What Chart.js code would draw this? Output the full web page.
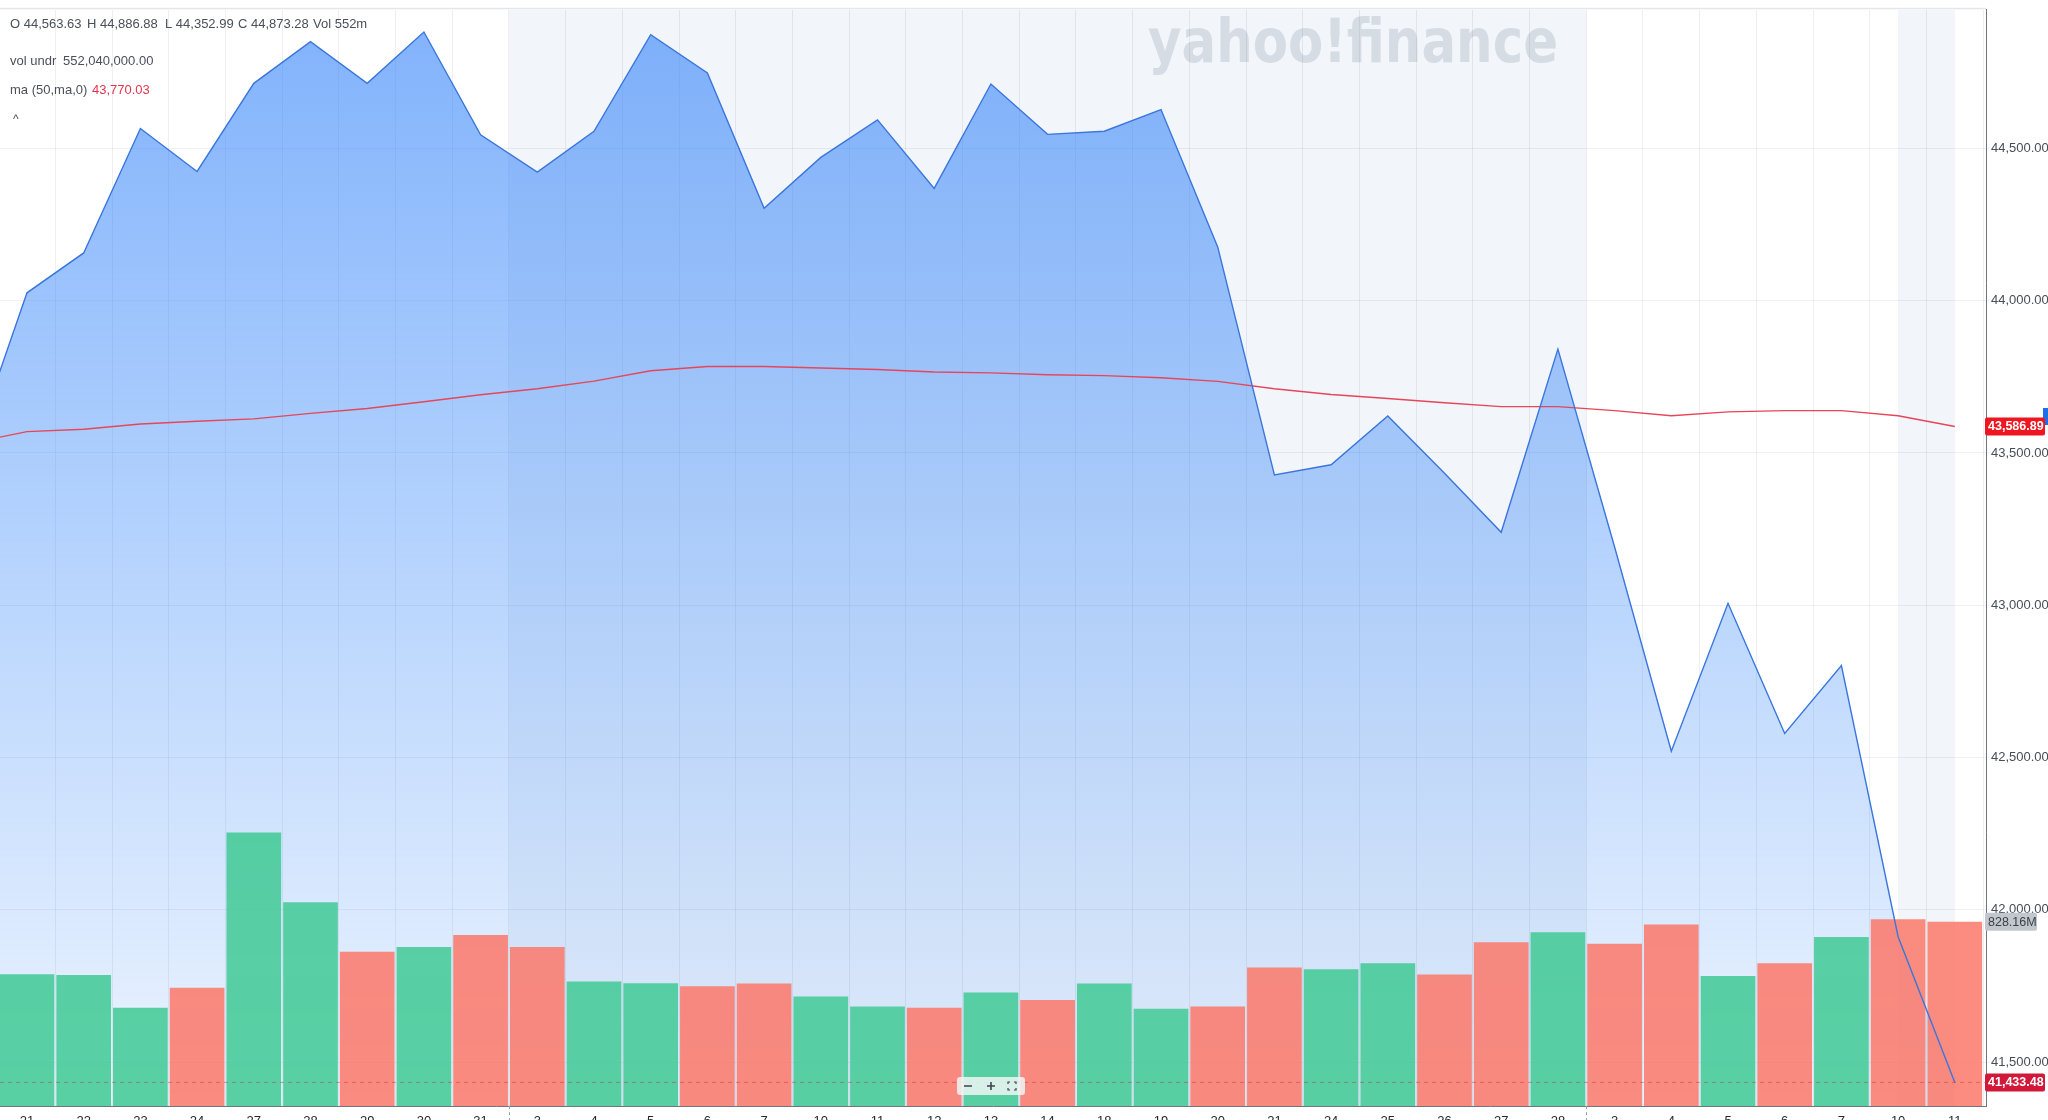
<!DOCTYPE html>
<html>
<head>
<meta charset="utf-8">
<title>DJIA</title>
<script src="https://cdn.jsdelivr.net/npm/chart.js@4.4.1/dist/chart.umd.min.js"></script>
<style>
  html, body { margin: 0; padding: 0; background: #fff; }
  #wrap { position: relative; width: 2048px; height: 1120px; overflow: hidden; }
  #wrap canvas { position: absolute; left: 0; top: 0; }
</style>
</head>
<body>
<div id="wrap"><canvas id="chart" width="2048" height="1140"></canvas></div>
<script>
// Day labels (Jan 21 - Mar 11)
const dateLabels = ['21', '22', '23', '24', '27', '28', '29', '30', '31',
  '3', '4', '5', '6', '7', '10', '11', '12', '13', '14', '18', '19', '20', '21', '24', '25', '26', '27', '28',
  '3', '4', '5', '6', '7', '10', '11'];

// close of the day before the first label (sits just off the left edge)
const prevClose = 43487.83;
const prevMa = 43532;

const closes = [44025.81, 44156.73, 44565.07, 44424.25, 44713.58, 44850.35, 44713.52, 44882.13, 44544.66,
  44421.91, 44556.04, 44873.28, 44747.63, 44303.40, 44470.41, 44593.65, 44368.56, 44711.43, 44546.08,
  44556.34, 44627.59, 44176.65, 43428.02, 43461.21, 43621.16, 43433.12, 43239.50, 43840.91,
  43191.24, 42520.99, 43006.59, 42579.08, 42801.72, 41911.71, 41433.48];

// 50 day moving average
const ma50 = [43570, 43578, 43595, 43604, 43612, 43630, 43646, 43668, 43691,
  43711, 43736, 43770, 43784, 43784, 43779, 43774, 43766, 43763, 43757, 43754, 43747, 43735,
  43711, 43692, 43679, 43665, 43652, 43652, 43639, 43622, 43635, 43639, 43639, 43622, 43586.89];

// volume, millions
const volumes = [593, 589, 442, 532, 1230, 916, 694, 715, 769,
  715, 560, 552, 539, 551, 493, 448, 442, 511, 477, 551, 437, 448, 623, 615, 642, 591, 737, 781,
  730, 816, 585, 642, 760, 840, 828.16];

const priceTicks = [41500, 42000, 42500, 43000, 43500, 44000, 44500];

const UP = 'rgba(65,201,149,0.86)';
const DOWN = 'rgba(252,118,104,0.84)';
const FONT = '"Liberation Sans", Arial, sans-serif';

const fmt = (v) => v.toLocaleString('en-US', { minimumFractionDigits: 2, maximumFractionDigits: 2 });

const pricePts = [{ x: -1, y: prevClose }].concat(closes.map((v, i) => ({ x: i, y: v })));
const maPts = [{ x: -1, y: prevMa }].concat(ma50.map((v, i) => ({ x: i, y: v })));
const volPts = volumes.map((v, i) => ({ x: i, y: v }));
const volColors = closes.map((c, i) => (c >= (i ? closes[i - 1] : prevClose) ? UP : DOWN));

function areaGradient(c) {
  const a = c.chart.chartArea;
  if (!a) return 'rgba(50,130,250,0.35)';
  const g = c.chart.ctx.createLinearGradient(0, a.top, 0, a.bottom);
  g.addColorStop(0, 'rgba(50,130,250,0.62)');
  g.addColorStop(1, 'rgba(50,135,250,0.09)');
  return g;
}

function tag(ctx, y, text, bg, fg, w, bold) {
  ctx.fillStyle = bg;
  ctx.beginPath();
  ctx.roundRect(1985, y - 9, w, 18, 2);
  ctx.fill();
  ctx.fillStyle = fg;
  ctx.font = (bold ? 'bold ' : '') + '12.5px ' + FONT;
  ctx.textAlign = 'left';
  ctx.textBaseline = 'middle';
  ctx.fillText(text, 1988, y + 0.5);
}

const decor = {
  id: 'decor',
  beforeDraw(chart) {
    const { ctx, chartArea: a, scales: { x } } = chart;
    ctx.save();
    // Feb band and the highlighted last-day column
    ctx.fillStyle = '#f2f5f9';
    [[8.5, 27.5], [33, 34]].forEach(([from, to]) => {
      const x0 = x.getPixelForValue(from);
      const x1 = x.getPixelForValue(to);
      ctx.fillRect(x0, a.top, x1 - x0, a.bottom - a.top);
    });
    ctx.fillStyle = '#e3e6ea';
    ctx.fillRect(0, a.top - 2, a.right, 1.5);
    // watermark
    ctx.font = 'bold 60px "DejaVu Sans", ' + FONT;
    ctx.fillStyle = '#d6dce4';
    ctx.textBaseline = 'alphabetic';
    ctx.fillText('yahoo!finance', 1148, 62, 410);
    ctx.restore();
  },
  afterDatasetsDraw(chart) {
    const { ctx, chartArea: a, scales: { y } } = chart;
    ctx.save();
    const ly = y.getPixelForValue(closes[closes.length - 1]);
    ctx.strokeStyle = 'rgba(200,40,60,0.45)';
    ctx.setLineDash([4, 4]);
    ctx.lineWidth = 1;
    ctx.beginPath();
    ctx.moveTo(a.left, ly);
    ctx.lineTo(a.right, ly);
    ctx.stroke();
    ctx.restore();
  },
  afterDraw(chart) {
    const { ctx, chartArea: a, scales: { x, y, vol } } = chart;
    ctx.save();
    // month separators under the axis
    ctx.strokeStyle = '#9aa1a9';
    ctx.setLineDash([3, 3]);
    [8.5, 27.5].forEach((v) => {
      const px = Math.round(x.getPixelForValue(v)) + 0.5;
      ctx.beginPath();
      ctx.moveTo(px, a.bottom);
      ctx.lineTo(px, a.bottom + 20);
      ctx.stroke();
    });
    ctx.setLineDash([]);

    // header readout
    ctx.fillStyle = '#4a5059';
    ctx.font = '13px ' + FONT;
    ctx.textBaseline = 'middle';
    ctx.textAlign = 'left';
    [['O 44,563.63', 10], ['H 44,886.88', 87], ['L 44,352.99', 165], ['C 44,873.28', 238], ['Vol 552m', 313]]
      .forEach(([t, px]) => ctx.fillText(t, px, 24));
    ctx.fillText('vol undr', 10, 61);
    ctx.fillText('552,040,000.00', 63, 61);
    ctx.fillText('ma (50,ma,0)', 10, 90);
    ctx.fillStyle = '#e0364c';
    ctx.fillText('43,770.03', 92, 90);
    ctx.fillStyle = '#4a5059';
    ctx.font = '12px ' + FONT;
    ctx.fillText('^', 13, 120);

    // zoom control
    ctx.fillStyle = 'rgba(240,246,244,0.85)';
    ctx.beginPath();
    ctx.roundRect(957, 1077, 68, 18, 3);
    ctx.fill();
    ctx.strokeStyle = '#3d4450';
    ctx.lineWidth = 1.6;
    ctx.beginPath();
    ctx.moveTo(964, 1086); ctx.lineTo(972, 1086);
    ctx.moveTo(987, 1086); ctx.lineTo(995, 1086);
    ctx.moveTo(991, 1082); ctx.lineTo(991, 1090);
    ctx.stroke();
    ctx.lineWidth = 1.2;
    ctx.beginPath();
    ctx.moveTo(1008, 1084); ctx.lineTo(1008, 1082); ctx.lineTo(1010, 1082);
    ctx.moveTo(1014, 1082); ctx.lineTo(1016, 1082); ctx.lineTo(1016, 1084);
    ctx.moveTo(1016, 1088); ctx.lineTo(1016, 1090); ctx.lineTo(1014, 1090);
    ctx.moveTo(1010, 1090); ctx.lineTo(1008, 1090); ctx.lineTo(1008, 1088);
    ctx.stroke();

    // right axis tags
    ctx.fillStyle = '#1c6fe8';
    ctx.fillRect(2043, 408, 6, 17);
    tag(ctx, y.getPixelForValue(ma50[ma50.length - 1]), fmt(ma50[ma50.length - 1]), '#ee1620', '#fff', 60, true);
    tag(ctx, vol.getPixelForValue(volumes[volumes.length - 1]), volumes[volumes.length - 1].toFixed(2) + 'M',
      '#c2c7ce', '#3b4047', 52, false);
    tag(ctx, y.getPixelForValue(closes[closes.length - 1]), fmt(closes[closes.length - 1]), '#d11838', '#fff', 60, true);
    ctx.restore();
  },
};

new Chart(document.getElementById('chart'), {
  type: 'bar',
  data: {
    datasets: [
      {
        type: 'line',
        data: pricePts,
        yAxisID: 'y',
        fill: 'start',
        backgroundColor: areaGradient,
        borderWidth: 0,
        pointRadius: 0,
        order: 4,
      },
      {
        type: 'bar',
        data: volPts,
        yAxisID: 'vol',
        backgroundColor: volColors,
        borderWidth: 0,
        barPercentage: 0.965,
        categoryPercentage: 1,
        order: 3,
      },
      {
        type: 'line',
        data: maPts,
        yAxisID: 'y',
        borderColor: '#e6465a',
        borderWidth: 1.4,
        pointRadius: 0,
        fill: false,
        order: 2,
      },
      {
        type: 'line',
        data: pricePts,
        yAxisID: 'y',
        borderColor: '#3a76de',
        borderWidth: 1.4,
        pointRadius: 0,
        fill: false,
        order: 1,
      },
    ],
  },
  options: {
    responsive: false,
    animation: false,
    layout: { padding: { top: 3, left: 0, right: 0, bottom: 0 } },
    plugins: { legend: { display: false }, tooltip: { enabled: false } },
    scales: {
      x: {
        type: 'linear',
        min: -0.476,
        max: 34.55,
        offset: false,
        grid: { color: 'rgba(30,50,80,0.08)', drawTicks: false },
        border: { display: true, color: '#6f7680' },
        ticks: {
          color: '#232a31',
          font: { family: FONT, size: 13 },
          padding: 8,
          maxRotation: 0,
          autoSkip: false,
          callback: (v) => dateLabels[v] ?? '',
        },
        afterBuildTicks: (s) => { s.ticks = dateLabels.map((_, i) => ({ value: i })); },
        afterFit: (s) => { s.height = 34; },
      },
      y: {
        position: 'right',
        min: 41356,
        max: 44955,
        grid: { color: 'rgba(30,50,80,0.07)', tickLength: 3 },
        border: { display: true, color: '#6f7680' },
        ticks: {
          color: '#464e56',
          font: { family: FONT, size: 13 },
          padding: 2,
          callback: (v) => fmt(v),
        },
        afterBuildTicks: (s) => { s.ticks = priceTicks.map((v) => ({ value: v })); },
        afterFit: (s) => { s.width = 62; },
      },
      vol: { display: false, min: 0, max: 4930 },
    },
  },
  plugins: [decor],
});
</script>
</body>
</html>
